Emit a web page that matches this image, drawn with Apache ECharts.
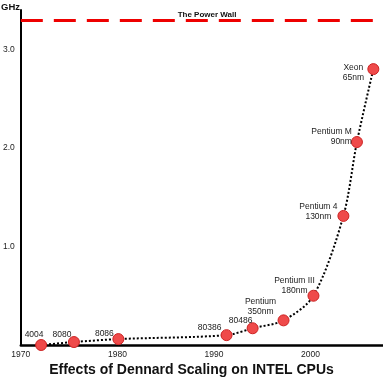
<!DOCTYPE html>
<html><head><meta charset="utf-8">
<script src="https://cdn.jsdelivr.net/npm/echarts@6/dist/echarts.min.js"></script>
<style>html,body{margin:0;padding:0;background:#fff}#c{width:383px;height:377px}</style>
</head><body><div id="c"></div>
<script>
const cpuNames = ['4004','8080','8086','80386','80486','Pentium\n350nm','Pentium III\n180nm','Pentium 4\n130nm','Pentium M\n90nm','Xeon\n65nm'];
const years = [1972.1, 1975.5, 1980.1, 1991.3, 1994.0, 1997.2, 2000.3, 2003.4, 2004.8, 2006.5];
const ghz = [0.0, 0.03, 0.06, 0.10, 0.17, 0.25, 0.50, 1.31, 2.06, 2.80];
const xTicks = [1970, 1980, 1990, 2000];
const yTicks = [1.0, 2.0, 3.0];
const powerWall = 3.3;
const labelOffsets = [[-7,-10],[-12,-7],[-14,-5],[-17,-7],[-12,-8],[-23,-14],[-19,-10],[-25,-4],[-5,-5],[-20,4]];
const labelAligns = ['center','center','center','center','center','center','center','center','right','center'];

const FONT = "'Liberation Sans', Arial, sans-serif";
const chart = echarts.init(document.getElementById('c'));
const data = years.map((y,i)=>({
  value:[y, ghz[i]],
  label:{show:true, formatter:cpuNames[i], position:'inside', offset:labelOffsets[i], align:labelAligns[i], verticalAlign:'middle'}
}));
chart.setOption({
  animation:false,
  title:{text:'Effects of Dennard Scaling on INTEL CPUs', left:'center', top:358,
    textStyle:{fontFamily:FONT, fontSize:14, fontWeight:'bold', color:'#111'}},
  grid:{left:18, right:0, top:10, bottom:32, containLabel:false},
  xAxis:{type:'value', min:1970, max:2007.5, interval:10,
    axisLine:{show:true, lineStyle:{color:'#000', width:2.5}},
    axisTick:{show:false}, splitLine:{show:false},
    axisLabel:{showMaxLabel:false, margin:5, fontFamily:FONT, fontSize:8.5, color:'#222',
      formatter:v=>xTicks.includes(v)?String(v):''}},
  yAxis:{type:'value', min:0, max:3.4, interval:1,
    axisLine:{show:true, lineStyle:{color:'#000', width:2}},
    axisTick:{show:false}, splitLine:{show:false},
    axisLabel:{showMinLabel:false, showMaxLabel:false, margin:6, fontFamily:FONT, fontSize:8.5, color:'#222',
      formatter:v=>yTicks.includes(v)?v.toFixed(1):''}},
  graphic:[{type:'text', left:1, top:2, style:{text:'GHz', fontFamily:FONT, fontSize:9.5, fontWeight:'bold', fill:'#111'}}],
  series:[{
    type:'line', data:data, smooth:0.3,
    symbol:'circle', symbolSize:11,
    itemStyle:{color:'#ef4a4a', borderColor:'#c22', borderWidth:1},
    lineStyle:{color:'#000', type:'dotted', width:2},
    label:{fontFamily:FONT, fontSize:8.5, color:'#222', lineHeight:10},
    z:3,
    markLine:{silent:true, symbol:'none',
      lineStyle:{color:'#e00', type:[22,11], width:3},
      label:{show:true, position:'insideMiddleTop', formatter:'The Power Wall', offset:[10,1], distance:2,
        fontFamily:FONT, fontSize:8, fontWeight:'bold', color:'#111'},
      data:[[{coord:[1970, powerWall]},{coord:[2006.5, powerWall]}]]}
  }]
});
</script></body></html>
